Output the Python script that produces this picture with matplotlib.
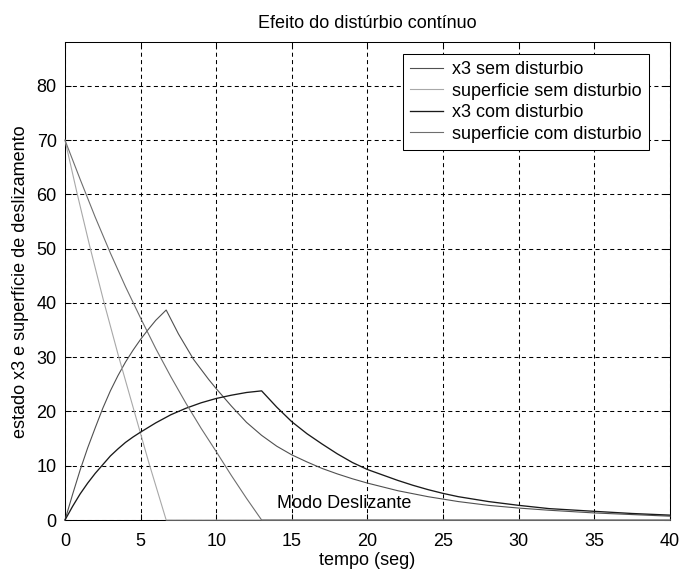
import matplotlib
matplotlib.use("Agg")
import matplotlib.pyplot as plt

plt.rcParams['font.family'] = ['Liberation Sans', 'DejaVu Sans']
plt.rcParams['lines.scale_dashes'] = False

# x3 sem disturbio (subida ate o fim do alcance, depois decaimento)
t_x3_sem = [0, 0.5, 1, 1.5, 2, 2.5, 3, 3.5, 4, 4.5, 5, 5.5, 6, 6.69,
            7.5, 8.5, 9.5, 10, 11, 12, 13, 14, 15, 16, 17, 18, 19, 20,
            22, 24, 26, 28, 30, 32, 35, 37.5, 40]
x3_sem = [0, 4.7, 9.2, 13.3, 17.0, 20.6, 23.8, 26.6, 29.1, 31.3, 33.3, 35.1, 36.8, 38.7,
          34.3, 29.6, 25.9, 24.2, 21.0, 18.0, 15.6, 13.6, 12.0, 10.7, 9.5, 8.5, 7.6, 6.8,
          5.4, 4.3, 3.4, 2.7, 2.2, 1.8, 1.3, 1.0, 0.7]

# superficie sem disturbio
t_s_sem = [0, 0.8, 1.65, 2.55, 3.5, 4.5, 5.55, 6.69, 40]
s_sem = [70, 60.2, 50.3, 40.4, 30.6, 20.8, 10.5, 0, 0]

# x3 com disturbio
t_x3_com = [0, 0.5, 1, 1.5, 2, 2.5, 3, 3.5, 4, 4.5, 5, 6, 7, 8, 9, 10, 11, 12, 13,
            14, 15, 16, 17, 18, 19, 20, 21, 22, 23, 24, 25, 26, 28, 30, 32, 35, 37.5, 40]
x3_com = [0, 2.5, 4.8, 6.8, 8.6, 10.2, 11.8, 13.1, 14.3, 15.3, 16.2, 17.9, 19.4, 20.6, 21.6,
          22.4, 23.0, 23.5, 23.8,
          20.8, 18.1, 15.9, 14.0, 12.2, 10.6, 9.3, 8.3, 7.3, 6.4, 5.6, 4.9, 4.3, 3.4, 2.7,
          2.1, 1.6, 1.2, 0.9]

# superficie com disturbio
t_s_com = [0, 1, 2, 3, 4, 5, 6, 7, 8, 9, 10, 11, 12, 13, 40]
s_com = [70, 62.8, 55.8, 49.2, 43.0, 37.2, 31.6, 26.4, 21.5, 16.9, 12.6, 8.2, 4.0, 0, 0]

fig = plt.figure(figsize=(6.82, 5.72), dpi=100)
ax = fig.add_axes([0.0953, 0.0909, 0.8871, 0.8348])

ax.plot(t_x3_sem, x3_sem, color='#505050', lw=0.8, label='x3 sem disturbio', clip_on=False, zorder=3)
ax.plot(t_s_sem, s_sem, color='#a8a8a8', lw=0.8, label='superficie sem disturbio', clip_on=False, zorder=3)
ax.plot(t_x3_com, x3_com, color='#1a1a1a', lw=0.95, label='x3 com disturbio', clip_on=False, zorder=3)
ax.plot(t_s_com, s_com, color='#6e6e6e', lw=0.8, label='superficie com disturbio', clip_on=False, zorder=3)

ax.set_xlim(0, 40)
ax.set_ylim(0, 88)
ax.set_xticks(range(0, 41, 5))
ax.set_yticks(range(0, 81, 10))
ax.grid(True, color='black', lw=0.75, dashes=(2.9, 2.4))
ax.tick_params(direction='in', length=4.5, width=0.75, top=True, right=True,
               labelsize=13)
ax.tick_params(axis='x', pad=9)
ax.tick_params(axis='y', pad=6)
for sp in ax.spines.values():
    sp.set_linewidth(0.75)

ax.set_title('Efeito do distúrbio contínuo', fontsize=13, pad=10.5)
ax.set_xlabel('tempo (seg)', fontsize=13, labelpad=1.5)
ax.set_ylabel('estado x3 e superfície de deslizamento', fontsize=13, labelpad=5)

ax.text(14.0, 2.2, 'Modo Deslizante', fontsize=13, va='baseline')

leg = ax.legend(loc='upper right', bbox_to_anchor=(0.9653, 0.976), borderaxespad=0,
                fontsize=13, fancybox=False, framealpha=1, edgecolor='black',
                handlelength=1.85, handletextpad=0.5, labelspacing=0.25,
                borderpad=0.4)
leg.get_frame().set_linewidth(0.75)

fig.savefig('out.png', dpi=100)
